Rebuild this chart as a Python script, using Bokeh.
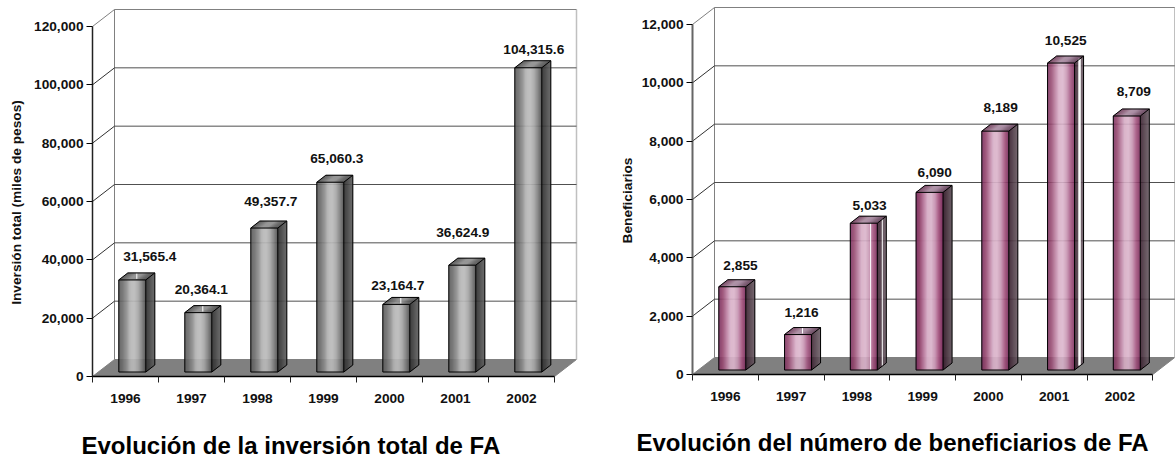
import math

from bokeh.core.properties import value
from bokeh.embed import file_html
from bokeh.layouts import row
from bokeh.models import FixedTicker, NumeralTickFormatter
from bokeh.plotting import figure
from bokeh.resources import INLINE

years = ["1996", "1997", "1998", "1999", "2000", "2001", "2002"]
inversion = [31565.4, 20364.1, 49357.7, 65060.3, 23164.7, 36624.9, 104315.6]
inversion_labels = ["31,565.4", "20,364.1", "49,357.7", "65,060.3", "23,164.7", "36,624.9", "104,315.6"]
beneficiarios = [2855, 1216, 5033, 6090, 8189, 10525, 8709]
beneficiarios_labels = ["2,855", "1,216", "5,033", "6,090", "8,189", "10,525", "8,709"]

inv_ticks = [0, 20000, 40000, 60000, 80000, 100000, 120000]
ben_ticks = [0, 2000, 4000, 6000, 8000, 10000, 12000]

inv_label_dx = [17.5, 3, 6.5, 6.5, 1.5, 0.5, 5.5]
inv_label_dy = [23.6, 23, 27, 24, 19, 33, 18]
ben_label_dx = [8.2, 3.5, 5.8, 5.1, 5.4, 4.7, 7]
ben_label_dy = [21, 22, 17.5, 20, 23.5, 23, 24]

grey_front = ["#5a5a5a", "#6e6e6e", "#8c8c8c", "#b4b4b4", "#bcbcbc", "#a8a8a8", "#808080", "#505050"]
grey_top = ["#4a4a4a", "#6a6a6a", "#8c8c8c", "#8a8a8a", "#606060", "#4a4a4a"]
grey_side = ["#303030", "#3c3c3c", "#505050", "#606060"]
pink_front = ["#7c3062", "#96486f", "#b87a9c", "#d8b0c8", "#dcb6cc", "#c896b4", "#a4557f", "#7c2c5c"]
pink_top = ["#6c3a58", "#8a5e78", "#a88aa0", "#a08098", "#7a5870", "#5e3c54"]
pink_side = ["#3a2030", "#4a3440", "#5a4852", "#6a5a64"]

FONT = "Liberation Sans"


def hex2rgb(h):
    return tuple(int(h[i:i + 2], 16) for i in (1, 3, 5))


def ramp(stops, t):
    f = t * (len(stops) - 1)
    i = min(int(f), len(stops) - 2)
    a, b = hex2rgb(stops[i]), hex2rgb(stops[i + 1])
    k = f - i
    return "#%02x%02x%02x" % tuple(round(a[c] + (b[c] - a[c]) * k) for c in range(3))


def chart(vals, labels, ticks, ymax, cat_w, axis_px, zero_px, total_w, total_h,
          label_dx, label_dy, fronts, tops, sides, axis_color, axis_w,
          ylabel, ylabel_pos, title, title_pos, white_front=(), white_side=(), white_top=()):
    upx = ymax / 350.0            # value per pixel
    xpx = 1.0 / cat_w             # category unit per pixel
    dep_x, dep_y = 22 * xpx, 17 * upx
    # The frame fills the whole figure, so the axes sit at fixed data positions.
    p = figure(width=total_w, height=total_h,
               x_range=(-axis_px * xpx, (total_w - axis_px) * xpx),
               y_range=((zero_px - total_h) * upx, zero_px * upx),
               output_backend="svg", toolbar_location=None,
               min_border_left=0, min_border_right=0, min_border_top=0, min_border_bottom=0)
    p.outline_line_color = None
    p.background_fill_color = "white"
    p.grid.visible = False

    # floor
    p.patch([0, 7, 7 + dep_x, dep_x], [0, 0, dep_y, dep_y], fill_color="#808080", line_color="#808080")
    # walls and gridlines
    top = ticks[-1] + dep_y
    p.line([dep_x, dep_x], [dep_y, top], line_color="#808080", line_width=1)
    p.line([7 + dep_x, 7 + dep_x], [dep_y, top], line_color="#c0c0c0", line_width=1.5)
    for t in ticks[1:]:
        col = "#808080" if t == ticks[-1] else "#505050"
        p.line([dep_x, 7 + dep_x], [t + dep_y, t + dep_y], line_color=col, line_width=1)
        p.line([0, dep_x], [t, t + dep_y], line_color=col if t == ticks[-1] else "#303030", line_width=1)

    # bars
    w_px = 27
    bx, by, dx, dy = 26.3 * xpx, 4.5 * upx, 9 * xpx, 7 * upx
    for i, v in enumerate(vals):
        x0 = i + bx
        x1 = x0 + w_px * xpx
        y0, y1 = by, by + v
        n = w_px
        xs, ys, cs = [], [], []
        for k in range(n):
            a, b = x0 + (x1 - x0) * k / n, x0 + (x1 - x0) * (k + 1) / n
            xs.append([a, b, b, a]); ys.append([y0, y0, y1, y1]); cs.append(ramp(fronts, (k + .5) / n))
        for k in range(n):
            a, b = x0 + (x1 - x0) * k / n, x0 + (x1 - x0) * (k + 1) / n
            xs.append([a, b, b + dx, a + dx]); ys.append([y1, y1, y1 + dy, y1 + dy]); cs.append(ramp(tops, (k + .5) / n))
        m = 9
        for k in range(m):
            a, b = dx * k / m, dx * (k + 1) / m
            h0, h1 = dy * k / m, dy * (k + 1) / m
            xs.append([x1 + a, x1 + b, x1 + b, x1 + a])
            ys.append([y0 + h0, y0 + h1, y1 + h1, y1 + h0])
            cs.append(ramp(sides, (k + .5) / m))
        p.patches(xs, ys, fill_color=cs, line_color=cs, line_width=0.3)
        if i in white_top:
            mid = x0 + 0.5 * (x1 - x0) + dx * 0.5
            p.line([mid, mid], [y1 + dy * 0.15, y1 + dy * 0.95], line_color="white", line_width=1)
        if i in white_front:
            wx = x0 + white_front[i] * xpx
            p.line([wx, wx], [y0, y1], line_color="white", line_width=1)
        if i in white_side:
            wx = x1 + white_side[i][0] * xpx
            p.line([wx, wx], [y0 + dy * .6, y1 + dy * .6], line_color="white", line_width=white_side[i][1])
        # outline
        p.line([x0, x1, x1, x0, x0], [y0, y0, y1, y1, y0], line_color="black", line_width=1)
        p.line([x0, x0 + dx, x1 + dx, x1], [y1, y1 + dy, y1 + dy, y1], line_color="black", line_width=1)
        p.line([x1 + dx, x1 + dx, x1], [y1 + dy, y0 + dy, y0], line_color="black", line_width=1)

    # value labels
    tx = [i + bx + (w_px / 2 + label_dx[i]) * xpx for i in range(len(vals))]
    ty = [by + vals[i] + label_dy[i] * upx for i in range(len(vals))]
    p.text(tx, ty, text=labels, text_font=value(FONT), text_font_style="bold",
           text_font_size="13.7px", text_color="#111111", text_align="center", text_baseline="middle")

    # axes
    xa = p.xaxis[0]
    xa.fixed_location = 0
    xa.ticker = FixedTicker(ticks=[i + .5 for i in range(7)], minor_ticks=list(range(8)))
    xa.major_label_overrides = {i + .5: y for i, y in enumerate(years)}
    xa.bounds = (0, 7)
    xa.major_tick_line_color = None
    xa.major_tick_out = 0
    xa.major_tick_in = 0
    xa.minor_tick_out = 6
    xa.minor_tick_in = 0
    xa.minor_tick_line_color = "#222222"
    xa.axis_line_color = "black"
    xa.axis_line_width = 1.5
    xa.major_label_standoff = 11
    xa.major_label_text_font = FONT
    xa.major_label_text_font_style = "bold"
    xa.major_label_text_font_size = "13.7px"
    xa.major_label_text_color = "#111111"

    ya = p.yaxis[0]
    ya.fixed_location = 0
    ya.ticker = FixedTicker(ticks=ticks)
    ya.formatter = NumeralTickFormatter(format="0,0")
    ya.bounds = (0, ticks[-1])
    ya.major_tick_out = 6
    ya.major_tick_in = 0
    ya.major_tick_line_color = "black"
    ya.minor_tick_line_color = None
    ya.axis_line_color = axis_color
    ya.axis_line_width = axis_w
    ya.major_label_standoff = 3
    ya.major_label_text_font = FONT
    ya.major_label_text_font_style = "bold"
    ya.major_label_text_font_size = "13.7px"
    ya.major_label_text_color = "#111111"

    # axis title and chart title, placed by the pixel positions
    p.text([(ylabel_pos[0] - axis_px) * xpx], [(zero_px - ylabel_pos[1]) * upx], text=[ylabel],
           angle=math.pi / 2, text_font=value(FONT), text_font_style="bold", text_font_size="13.7px",
           text_color="#111111", text_align="center", text_baseline="middle")
    p.text([(title_pos[0] - axis_px) * xpx], [(zero_px - title_pos[1]) * upx], text=[title],
           text_font=value(FONT), text_font_style="bold", text_font_size="24px",
           text_color="black", text_align="left", text_baseline="middle")
    return p


left = chart(inversion, inversion_labels, inv_ticks, 120000, 66.0, 92, 376, 600, 459,
             inv_label_dx, inv_label_dy, grey_front, grey_top, grey_side, "#222222", 1.5,
             "Inversión total (miles de pesos)", (16, 202),
             "Evolución de la inversión total de FA", (81, 445),
             white_top=(0, 1, 4))
right = chart(beneficiarios, beneficiarios_labels, ben_ticks, 12000, 65.75, 92, 374, 575, 459,
              ben_label_dx, ben_label_dy, pink_front, pink_top, pink_side, "#666666", 2,
              "Beneficiarios", (26.7, 200),
              "Evolución del número de beneficiarios de FA", (36, 442),
              white_front={2: 20.3}, white_side={2: (5, 1), 5: (5, 2.5)}, white_top=(1,))

page = row(left, right, spacing=0)
open("out.html", "w").write(file_html(page, INLINE))
